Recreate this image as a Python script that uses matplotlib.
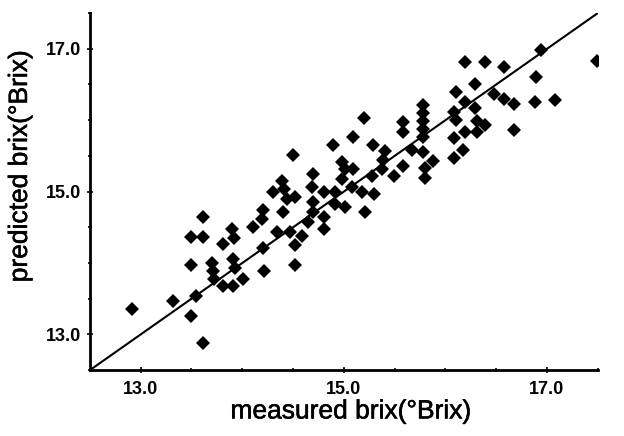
import matplotlib.pyplot as plt
import matplotlib.patheffects as pe
from matplotlib.ticker import MultipleLocator, FixedLocator, FixedFormatter

# measured vs predicted brix
measured = [
    12.91, 13.32, 13.50, 13.61, 13.54, 13.50, 13.50, 13.61, 13.61, 13.70,
    13.71, 13.72, 13.81, 13.91, 14.01, 13.93, 13.91, 13.81, 13.90, 13.92,
    14.11, 14.20, 14.19, 14.20, 14.21, 14.34, 14.47, 14.59, 14.52, 14.52,
    14.40, 14.50, 14.39, 14.30, 14.41, 14.44, 14.52, 14.65, 14.70, 14.69,
    14.70, 14.70, 14.80, 14.91, 14.80, 14.80, 14.91, 15.01, 15.21, 14.98,
    15.01, 15.09, 14.98, 15.08, 15.18, 15.30, 14.89, 15.09, 15.20, 15.29,
    15.41, 15.39, 15.38, 15.49, 15.28, 15.58, 15.58, 15.58, 15.67, 15.78,
    15.88, 15.80, 15.80, 15.78, 15.78, 15.78, 15.78, 15.78, 16.08, 16.17,
    16.08, 16.19, 16.31, 16.39, 16.31, 16.10, 16.08, 16.29, 16.19, 16.10,
    16.29, 16.19, 16.39, 16.58, 16.48, 16.58, 16.68, 16.88, 17.08, 16.68,
    16.89, 16.94, 17.49,
]
predicted = [
    13.35, 13.47, 13.26, 12.88, 13.54, 13.97, 14.36, 14.36, 14.64, 14.00,
    13.89, 13.78, 13.68, 13.68, 13.78, 13.93, 14.06, 14.26, 14.47, 14.35,
    14.51, 14.74, 14.61, 14.21, 13.89, 14.43, 14.43, 14.38, 14.25, 13.97,
    14.72, 15.51, 15.15, 15.00, 15.03, 14.90, 14.92, 14.58, 15.25, 15.06,
    14.86, 14.72, 15.00, 14.99, 14.64, 14.47, 14.83, 14.79, 14.71, 15.42,
    15.31, 15.31, 15.18, 15.06, 14.99, 14.96, 15.65, 15.76, 16.03, 15.65,
    15.57, 15.44, 15.31, 15.22, 15.22, 15.97, 15.83, 15.36, 15.58, 15.56,
    15.43, 15.33, 15.19, 16.21, 16.10, 15.99, 15.88, 15.76, 15.47, 15.58,
    15.75, 15.83, 15.83, 15.93, 15.99, 16.00, 16.11, 16.17, 16.25, 16.40,
    16.51, 16.82, 16.81, 16.75, 16.36, 16.29, 16.22, 16.25, 16.28, 15.86,
    16.61, 16.99, 16.83,
]

AXIS_MIN = 12.5
AXIS_MAX = 17.5
tick_values = [13.0, 15.0, 17.0]
tick_labels = ["13.0", "15.0", "17.0"]

plt.rcParams["font.family"] = ["Liberation Sans", "DejaVu Sans"]

fig = plt.figure(figsize=(6.24, 4.36), dpi=100)
ax = fig.add_axes([0.144, 0.151, 0.814, 0.819])

ax.plot(measured, predicted, linestyle="none", marker="D",
        markersize=6.7, color="black", markeredgewidth=0, zorder=3)
ax.plot([AXIS_MIN, AXIS_MAX], [AXIS_MIN, AXIS_MAX], color="black",
        linewidth=1.5, zorder=2)

ax.set_xlim(AXIS_MIN, AXIS_MAX)
ax.set_ylim(AXIS_MIN, AXIS_MAX)

for side in ["top", "right"]:
    ax.spines[side].set_visible(False)
for side in ["left", "bottom"]:
    ax.spines[side].set_linewidth(2.0)

for axis in [ax.xaxis, ax.yaxis]:
    axis.set_major_locator(FixedLocator(tick_values))
    axis.set_major_formatter(FixedFormatter(tick_labels))
    axis.set_minor_locator(MultipleLocator(0.5))

ax.tick_params(which="both", direction="inout", width=1.2, color="black")
ax.tick_params(which="major", length=5)
ax.tick_params(which="minor", length=3)
ax.tick_params(axis="x", which="major", pad=5)
ax.tick_params(axis="y", which="major", pad=4)

for lbl in ax.get_xticklabels() + ax.get_yticklabels():
    lbl.set_fontsize(13)
    lbl.set_fontweight("bold")

thick = [pe.withStroke(linewidth=0.4, foreground="black")]
ax.set_xlabel("measured brix(°Brix)", fontsize=19, path_effects=thick)
ax.set_ylabel("predicted brix(°Brix)", fontsize=19, path_effects=thick)
ax.xaxis.set_label_coords(0.514, -0.082)
ax.yaxis.set_label_coords(-0.114, 0.571)

fig.savefig("out.png", dpi=100)
